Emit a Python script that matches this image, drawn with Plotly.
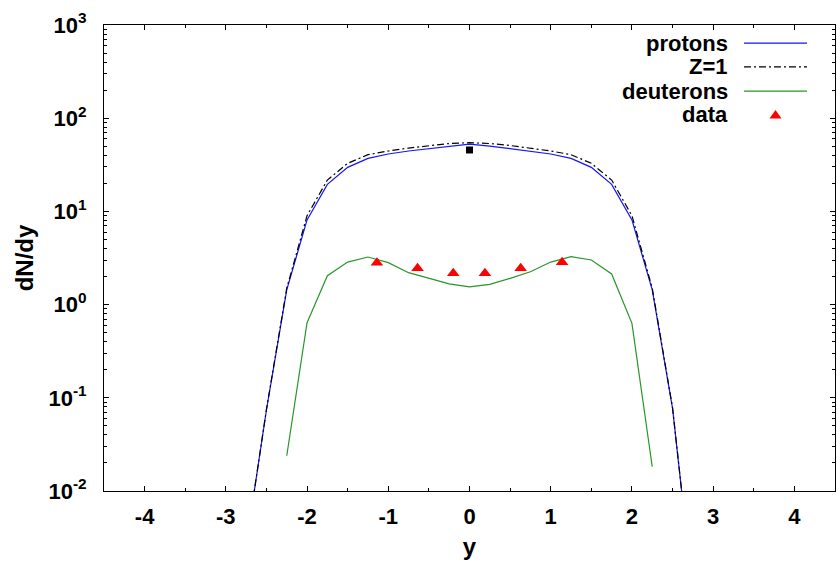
import plotly.graph_objects as go

# ---------------- data ----------------
y_model = [-2.75, -2.5, -2.25, -2.0, -1.75, -1.5, -1.25, -1.0, -0.75, -0.5, -0.25, 0.0,
           0.25, 0.5, 0.75, 1.0, 1.25, 1.5, 1.75, 2.0, 2.25, 2.5, 2.75]
protons = [0.0026, 0.074, 1.44, 8.1, 19.5, 29.7, 37.1, 41.3, 44.5, 47.3, 50.2, 52.8,
           50.2, 47.3, 44.5, 41.3, 37.1, 29.7, 19.5, 8.1, 1.44, 0.077, 0.0008]
z1 = [0.0026, 0.075, 1.5, 9.0, 21.7, 32.8, 40.6, 44.5, 47.8, 50.9, 53.5, 54.6,
      53.5, 50.9, 47.8, 44.5, 40.6, 32.8, 21.7, 9.0, 1.5, 0.078, 0.0008]

y_deut = [-2.25, -2.0, -1.75, -1.5, -1.25, -1.0, -0.75, -0.5, -0.25, 0.0,
          0.25, 0.5, 0.75, 1.0, 1.25, 1.5, 1.75, 2.0, 2.25]
deuterons = [0.0239, 0.64, 2.04, 2.86, 3.24, 2.82, 2.20, 1.90, 1.67, 1.55,
             1.65, 1.91, 2.25, 2.86, 3.27, 3.01, 2.13, 0.63, 0.0182]

y_data = [-1.14, -0.64, -0.20, 0.19, 0.63, 1.14]
data_vals = [2.81, 2.45, 2.17, 2.17, 2.45, 2.85]

y_proton_data = [0.0]
proton_data = [45.6]

x_ticks = [-4, -3, -2, -1, 0, 1, 2, 3, 4]
y_tick_exps = [-2, -1, 0, 1, 2, 3]

legend_names = ["protons", "Z=1", "deuterons", "data"]

# ---------------- styles ----------------
BLUE = "rgb(20,20,255)"
GREEN = "rgb(40,150,40)"
RED = "rgb(255,0,0)"
FONT = "Liberation Sans"
DASHDOT = "7px,3px,2px,3px"

fig = go.Figure()
fig.add_trace(go.Scatter(x=y_model, y=protons, mode="lines",
                         line=dict(color=BLUE, width=1.2), showlegend=False))
fig.add_trace(go.Scatter(x=y_model, y=z1, mode="lines",
                         line=dict(color="black", width=1.2, dash=DASHDOT),
                         showlegend=False))
fig.add_trace(go.Scatter(x=y_deut, y=deuterons, mode="lines",
                         line=dict(color=GREEN, width=1.2), showlegend=False))
fig.add_trace(go.Scatter(x=y_data, y=data_vals, mode="markers",
                         marker=dict(symbol="triangle-up", size=11, color=RED),
                         showlegend=False))
fig.add_trace(go.Scatter(x=y_proton_data, y=proton_data, mode="markers",
                         marker=dict(symbol="square", size=7, color="black"),
                         showlegend=False))

# minor tick positions on log axis
minor_vals = []
for e in range(-2, 3):
    for m in range(2, 10):
        minor_vals.append(m * 10 ** e)

fig.update_layout(
    width=837, height=565,
    margin=dict(l=104, r=2, t=25, b=74),
    paper_bgcolor="white", plot_bgcolor="white",
    font=dict(family=FONT, size=22, color="black", weight="bold"),
    xaxis=dict(
        range=[-4.5, 4.5], tickvals=x_ticks, ticktext=[str(v) for v in x_ticks],
        ticks="inside", ticklen=5, tickwidth=1, tickcolor="black",
        showline=True, linecolor="black", linewidth=1, mirror="ticks",
        showgrid=False, zeroline=False,
        minor=dict(ticks="inside", ticklen=3, dtick=0.5, tickcolor="black", showgrid=False),
        tickfont=dict(family=FONT, size=22, weight="bold"),
        ticklabelstandoff=6,
        title=dict(text="y", font=dict(family=FONT, size=24, weight="bold"), standoff=9),
    ),
    yaxis=dict(
        type="log", range=[-2, 3],
        tickvals=[10 ** e for e in y_tick_exps],
        ticktext=["10<sup>%d</sup>" % e for e in y_tick_exps],
        ticks="inside", ticklen=5, tickwidth=1, tickcolor="black",
        showline=True, linecolor="black", linewidth=1, mirror="ticks",
        showgrid=False, zeroline=False,
        minor=dict(ticks="inside", ticklen=3, tickvals=minor_vals, tickcolor="black", showgrid=False),
        tickfont=dict(family=FONT, size=22, weight="bold"),
        ticklabelstandoff=12,
        title=dict(text="dN/dy", font=dict(family=FONT, size=24, weight="bold"), standoff=8),
    ),
)

# ---------------- manual legend (text left of sample, like gnuplot) ----------------
leg_y = [0.961, 0.910, 0.858, 0.807]
text_x = 0.855
line_x0, line_x1 = 0.8755, 0.9617
for name, yy in zip(legend_names, leg_y):
    fig.add_annotation(x=text_x, y=yy, xref="paper", yref="paper", text=name,
                       showarrow=False, xanchor="right", yanchor="middle", borderpad=0,
                       font=dict(family=FONT, size=22, weight="bold", color="black"))
styles = [dict(color=BLUE, width=1.2), dict(color="black", width=1.2, dash=DASHDOT),
          dict(color=GREEN, width=1.2)]
for st, yy in zip(styles, leg_y[:3]):
    fig.add_shape(type="line", xref="paper", yref="paper", x0=line_x0, x1=line_x1,
                  y0=yy, y1=yy, line=st)
fig.add_shape(type="path", xref="paper", yref="paper", xsizemode="pixel", ysizemode="pixel",
              xanchor=(line_x0 + line_x1) / 2, yanchor=leg_y[3],
              path="M-6,-3.5 L6,-3.5 L0,5 Z", fillcolor=RED, line=dict(width=0))

fig.write_html("out.html")
